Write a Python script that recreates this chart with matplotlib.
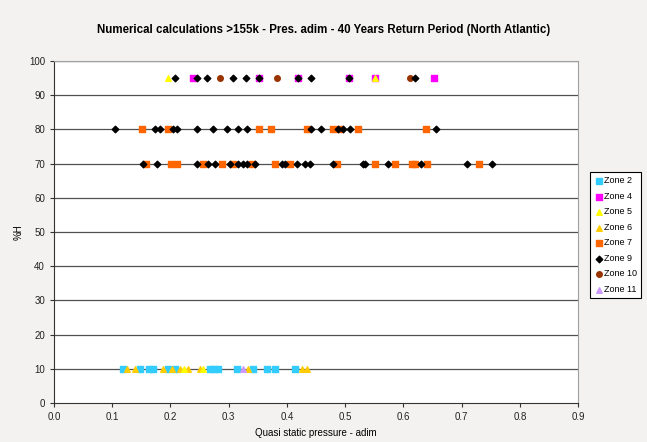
import numpy as np
import matplotlib.pyplot as plt

plt.rcParams['font.family'] = ['Liberation Sans', 'DejaVu Sans']

# x values (quasi static pressure) per zone and %H level
zone2_10 = [0.119, 0.148, 0.163, 0.170, 0.196, 0.208, 0.268, 0.275, 0.282, 0.314, 0.342, 0.366, 0.380, 0.414]
zone4_95 = [0.239, 0.352, 0.419, 0.507, 0.552, 0.653]
zone5_95 = [0.196, 0.552]
zone5_10 = [0.223, 0.256]
zone6_10 = [0.125, 0.139, 0.187, 0.203, 0.216, 0.230, 0.251, 0.333, 0.426, 0.435]
zone7_80 = [0.151, 0.196, 0.352, 0.373, 0.435, 0.479, 0.491, 0.522, 0.639]
zone7_70 = [0.158, 0.201, 0.211, 0.256, 0.289, 0.308, 0.340, 0.380, 0.405, 0.486,
            0.552, 0.586, 0.615, 0.620, 0.641, 0.729]
zone9_95 = [0.208, 0.246, 0.263, 0.308, 0.330, 0.352, 0.419, 0.442, 0.507, 0.620]
zone9_80 = [0.105, 0.174, 0.182, 0.204, 0.211, 0.246, 0.273, 0.297, 0.316, 0.332,
            0.442, 0.459, 0.488, 0.497, 0.509, 0.656]
zone9_70 = [0.153, 0.177, 0.246, 0.265, 0.277, 0.302, 0.316, 0.325, 0.332, 0.345,
            0.392, 0.397, 0.418, 0.431, 0.440, 0.479, 0.531, 0.534, 0.574, 0.631,
            0.710, 0.753]
zone10_95 = [0.285, 0.383, 0.612]
zone11_10 = [0.325]

xticks = [0.0, 0.1, 0.2, 0.3, 0.4, 0.5, 0.6, 0.7, 0.8, 0.9]
yticks = [0, 10, 20, 30, 40, 50, 60, 70, 80, 90, 100]

fig = plt.figure(figsize=(6.47, 4.42), dpi=100, facecolor='#f3f2f0')
ax = fig.add_axes([0.0835, 0.088, 0.81, 0.774])
ax.set_facecolor('white')

for y in yticks[1:]:
    ax.axhline(y, color='#505050', lw=0.9, zorder=1)

def pts(xs, yv):
    return xs, [yv] * len(xs)

s = 16
ax.scatter(*pts(zone2_10, 10), marker='s', s=s, color='#33ccff', zorder=3, label='Zone 2')
ax.scatter(*pts(zone4_95, 95), marker='s', s=s, color='#ff00ff', zorder=3, label='Zone 4')
x5 = zone5_95 + zone5_10
y5 = [95] * len(zone5_95) + [10] * len(zone5_10)
ax.scatter(x5, y5, marker='^', s=s, color='#ffff00', zorder=4, label='Zone 5')
ax.scatter(*pts(zone6_10, 10), marker='^', s=s, color='#ffcc00', zorder=3, label='Zone 6')
x7 = zone7_80 + zone7_70
y7 = [80] * len(zone7_80) + [70] * len(zone7_70)
ax.scatter(x7, y7, marker='s', s=s, color='#ff6600', zorder=3, label='Zone 7')
x9 = zone9_95 + zone9_80 + zone9_70
y9 = [95] * len(zone9_95) + [80] * len(zone9_80) + [70] * len(zone9_70)
ax.scatter(x9, y9, marker='D', s=11, color='black', zorder=4, label='Zone 9')
ax.scatter(*pts(zone10_95, 95), marker='o', s=s, color='#993300', zorder=3, label='Zone 10')
ax.scatter(*pts(zone11_10, 10), marker='^', s=s, color='#cc99ff', zorder=4, label='Zone 11')

ax.set_xlim(0, 0.9)
ax.set_ylim(0, 100)
ax.set_xticks(xticks)
ax.set_xticklabels(['%.1f' % v for v in xticks])
ax.set_yticks(yticks)
ax.tick_params(labelsize=7, length=3, color='#333333', colors='#222222')
for side in ['top', 'right']:
    ax.spines[side].set_color('#a0a0a0')
for side in ['left', 'bottom']:
    ax.spines[side].set_color('#333333')

ax.set_xlabel('Quasi static pressure - adim', fontsize=7)
ax.set_ylabel('%H', fontsize=7)
fig.suptitle('Numerical calculations >155k - Pres. adim - 40 Years Return Period (North Atlantic)',
             fontsize=8.3, fontweight='bold', y=0.945)

leg = fig.legend(loc='upper left', bbox_to_anchor=(0.912, 0.61), fontsize=6.5,
                 fancybox=False, edgecolor='black', framealpha=1,
                 handletextpad=0.1, handlelength=1.0, borderpad=0.45,
                 labelspacing=0.72, borderaxespad=0)
leg.get_frame().set_linewidth(0.8)

fig.savefig('out.png', dpi=100, facecolor=fig.get_facecolor())
